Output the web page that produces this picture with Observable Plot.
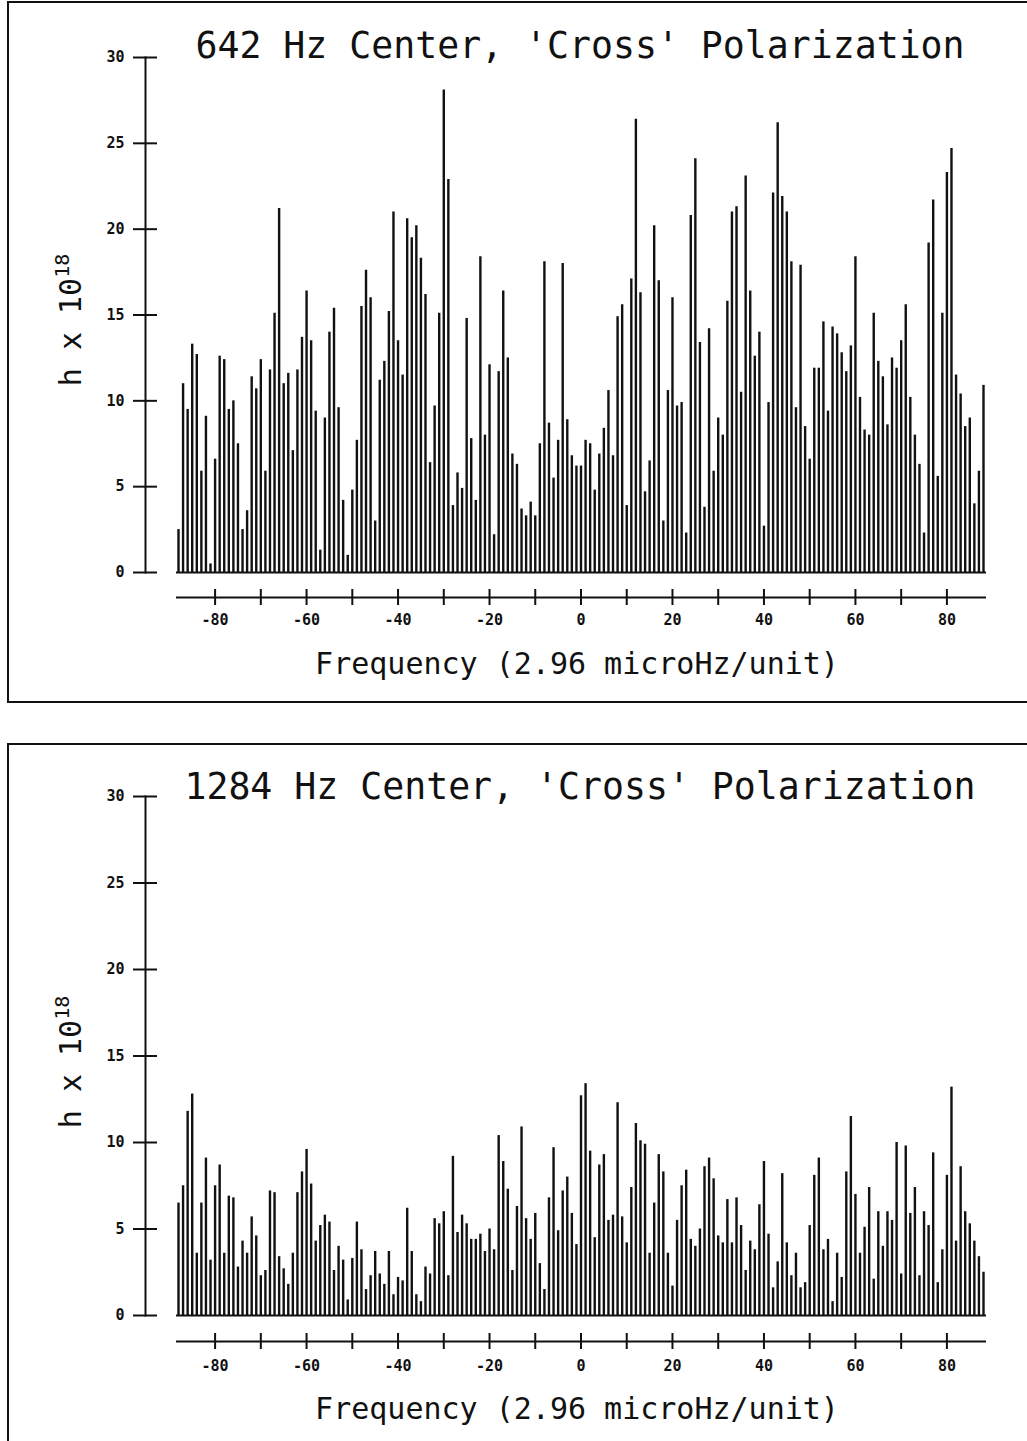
<!DOCTYPE html>
<html><head><meta charset="utf-8">
<script src="https://cdn.jsdelivr.net/npm/d3@7"></script>
<script src="https://cdn.jsdelivr.net/npm/@observablehq/plot@0.6"></script>
<style>
body{margin:0;background:#fff;width:1027px;height:1441px;overflow:hidden;position:relative;font-family:"DejaVu Sans Mono",monospace;color:#111;}
.panel{position:absolute;border:2px solid #111;box-sizing:border-box;}
.t{position:absolute;transform:translate(-50%,-50%);white-space:nowrap;color:#111;}
.title{font-size:36.5px;}
.xl{font-size:30px;}
.yl{font-size:30px;transform:translate(-50%,-50%) rotate(-90deg);}
.yl sup{font-size:20px;vertical-align:0.6em;line-height:0;}
.svgwrap{position:absolute;left:0;}
</style></head><body>
<div class="panel" style="left:7px;top:1px;width:1040px;height:702px"></div>
<div class="panel" style="left:7px;top:743px;width:1040px;height:720px"></div>
<div class="t title" style="left:580px;top:45px">642 Hz Center, 'Cross' Polarization</div>
<div class="t xl" style="left:577px;top:663px">Frequency (2.96 microHz/unit)</div>
<div class="t yl" style="left:70px;top:320px">h x 10<sup>18</sup></div>
<div class="t title" style="left:580px;top:786px">1284 Hz Center, 'Cross' Polarization</div>
<div class="t xl" style="left:577px;top:1408px">Frequency (2.96 microHz/unit)</div>
<div class="t yl" style="left:70px;top:1062px">h x 10<sup>18</sup></div>
<div id="p1" class="svgwrap" style="top:0px"></div>
<div id="p2" class="svgwrap" style="top:740px"></div>
<script>
const freq = d3.range(-88, 89);
const h642 = [2.5, 11.0, 9.5, 13.3, 12.7, 5.9, 9.1, 0.5, 6.6, 12.6,
 12.4, 9.5, 10.0, 7.5, 2.5, 3.6, 11.4, 10.7, 12.4, 5.9,
 11.8, 15.1, 21.2, 11.0, 11.6, 7.1, 11.8, 13.7, 16.4, 13.5,
 9.4, 1.3, 9.0, 14.0, 15.4, 9.6, 4.2, 1.0, 4.8, 7.7,
 15.5, 17.6, 16.0, 3.0, 11.2, 12.3, 15.2, 21.0, 13.5, 11.5,
 20.6, 19.5, 20.2, 18.3, 16.2, 6.4, 9.7, 15.1, 28.1, 22.9,
 3.9, 5.8, 4.9, 14.8, 7.8, 4.2, 18.4, 8.0, 12.1, 2.2,
 11.7, 16.4, 12.5, 6.9, 6.3, 3.7, 3.3, 4.1, 3.3, 7.5,
 18.1, 8.7, 5.5, 7.7, 18.0, 8.9, 6.8, 6.2, 6.2, 7.7,
 7.5, 4.8, 6.9, 8.4, 10.6, 6.8, 14.9, 15.6, 3.9, 17.1,
 26.4, 16.3, 4.7, 6.5, 20.2, 17.0, 3.0, 10.6, 16.0, 9.7,
 9.9, 2.3, 20.8, 24.1, 13.4, 3.8, 14.2, 5.9, 9.0, 8.0,
 15.8, 21.0, 21.3, 10.5, 23.1, 16.4, 12.6, 14.0, 2.7, 9.9,
 22.1, 26.2, 21.9, 21.0, 18.1, 9.6, 17.9, 8.5, 6.6, 11.9,
 11.9, 14.6, 9.4, 14.3, 13.9, 12.8, 11.7, 13.2, 18.4, 10.2,
 8.3, 8.0, 15.1, 12.3, 11.4, 8.6, 12.5, 11.9, 13.5, 15.6,
 10.2, 8.0, 6.3, 2.3, 19.2, 21.7, 5.6, 15.1, 23.3, 24.7,
 11.5, 10.4, 8.5, 9.0, 4.0, 5.9, 10.9];
const h1284 = [6.5, 7.5, 11.8, 12.8, 3.6, 6.5, 9.1, 3.2, 7.5, 8.7,
 3.6, 6.9, 6.8, 2.8, 4.3, 3.6, 5.7, 4.6, 2.3, 2.6,
 7.2, 7.1, 3.4, 2.7, 1.8, 3.6, 7.1, 8.3, 9.6, 7.6,
 4.3, 5.2, 5.8, 5.4, 2.6, 4.0, 3.2, 0.9, 3.3, 5.4,
 3.8, 1.5, 2.3, 3.7, 2.4, 1.8, 3.7, 1.2, 2.2, 2.0,
 6.2, 3.7, 1.2, 0.8, 2.8, 2.4, 5.6, 5.3, 6.0, 2.3,
 9.2, 4.8, 5.8, 5.3, 4.4, 4.4, 4.7, 3.7, 5.0, 3.8,
 10.4, 8.9, 7.3, 2.6, 6.3, 10.9, 5.6, 4.4, 5.9, 3.0,
 1.5, 6.8, 9.7, 4.9, 7.2, 8.0, 5.9, 4.1, 12.7, 13.4,
 9.5, 4.5, 8.7, 9.3, 5.5, 5.8, 12.3, 5.7, 4.2, 7.4,
 11.1, 10.1, 9.9, 3.6, 6.5, 9.3, 8.3, 3.6, 1.7, 5.5,
 7.5, 8.4, 4.4, 4.0, 5.0, 8.6, 9.1, 7.9, 4.6, 4.2,
 6.7, 4.2, 6.8, 5.2, 2.6, 4.3, 3.8, 6.4, 8.9, 4.7,
 1.6, 3.1, 8.2, 4.2, 2.3, 3.6, 1.6, 1.9, 5.2, 8.1,
 9.1, 3.8, 4.4, 0.8, 3.6, 2.2, 8.3, 11.5, 7.0, 3.6,
 5.1, 7.4, 2.1, 6.0, 4.0, 6.0, 5.5, 10.0, 2.4, 9.8,
 5.9, 7.4, 2.3, 6.0, 5.2, 9.4, 1.9, 3.8, 8.1, 13.2,
 4.3, 8.6, 6.0, 5.3, 4.3, 3.4, 2.5];
const yTicks = [0, 5, 10, 15, 20, 25, 30];
const xTicks = [-80, -70, -60, -50, -40, -30, -20, -10, 0, 10, 20, 30, 40, 50, 60, 70, 80];
const xLabels = [-80, -60, -40, -20, 0, 20, 40, 60, 80];

function panel(values, o) {
  const data = freq.map((f, i) => ({f, v: values[i]}));
  const sw = 2;
  return Plot.plot({
    width: 1027, height: o.height,
    marginLeft: 145, marginRight: 41, marginTop: o.mt, marginBottom: o.mb,
    x: {domain: [-88, 88], range: [178, 983]},
    y: {domain: [0, 30]},
    style: {background: "none", overflow: "visible", fontFamily: "DejaVu Sans Mono, monospace", fontSize: "15px", fontWeight: "bold", color: "#111"},
    marks: [
      Plot.frame({anchor: "left", strokeWidth: sw}),
      Plot.axisY({ticks: yTicks, tickSize: 12, tickPadding: 9, tickFormat: d => String(d), label: null, strokeWidth: sw, fontSize: 15, fontWeight: "bold"}),
      Plot.axisY({ticks: yTicks, tickSize: 12, dx: 12, fill: "none", label: null, strokeWidth: sw}),
      Plot.ruleY([0], {insetLeft: 31, strokeWidth: sw}),
      Plot.ruleY([0], {insetLeft: 31, dy: o.axOff, strokeWidth: sw}),
      Plot.axisX({ticks: xTicks, tickSize: 16, dy: o.axOff - 8, fill: "none", label: null, strokeWidth: sw}),
      Plot.axisX({ticks: xLabels, tickSize: 0, tickPadding: o.lblOff, stroke: "none", tickFormat: d => String(d), label: null, fontSize: 15, fontWeight: "bold"}),
      Plot.ruleX(data, {x: "f", y1: 0, y2: "v", strokeWidth: 2.4, stroke: "#111"})
    ]
  });
}
document.getElementById("p1").append(panel(h642, {height: 702, mt: 57, mb: 130, axOff: 25, lblOff: 42}));
document.getElementById("p2").append(panel(h1284, {height: 701, mt: 56, mb: 126, axOff: 26, lblOff: 45}));
</script>
</body></html>
